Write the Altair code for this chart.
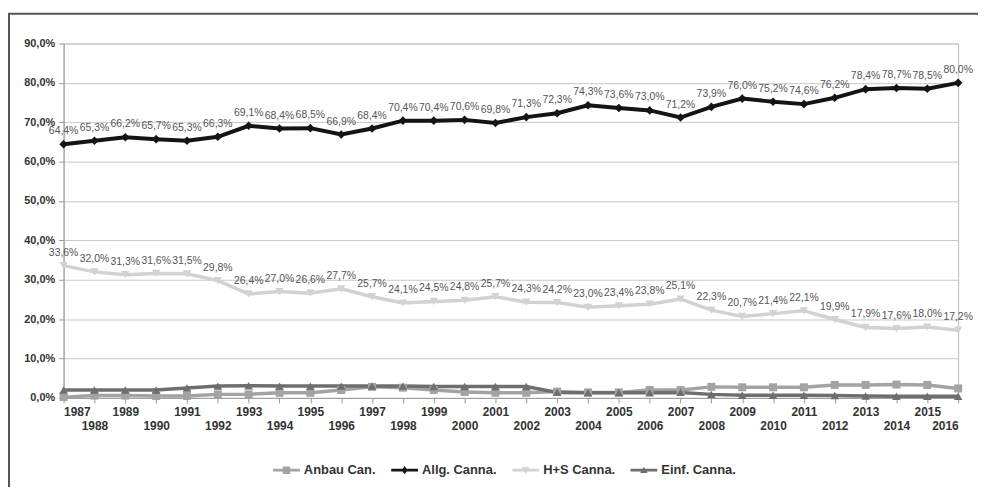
import altair as alt
import pandas as pd

years = list(range(1987, 2017))
anbau = [0.2, 0.6, 0.6, 0.5, 0.5, 0.9, 0.9, 1.3, 1.3, 2.0, 2.8, 2.6, 2.0, 1.5, 1.3,
         1.3, 1.6, 1.4, 1.4, 2.0, 2.0, 2.8, 2.7, 2.7, 2.7, 3.3, 3.3, 3.4, 3.3, 2.4]
allg = [64.4, 65.3, 66.2, 65.7, 65.3, 66.3, 69.1, 68.4, 68.5, 66.9, 68.4, 70.4, 70.4, 70.6, 69.8,
        71.3, 72.3, 74.3, 73.6, 73.0, 71.2, 73.9, 76.0, 75.2, 74.6, 76.2, 78.4, 78.7, 78.5, 80.0]
hs = [33.6, 32.0, 31.3, 31.6, 31.5, 29.8, 26.4, 27.0, 26.6, 27.7, 25.7, 24.1, 24.5, 24.8, 25.7,
      24.3, 24.2, 23.0, 23.4, 23.8, 25.1, 22.3, 20.7, 21.4, 22.1, 19.9, 17.9, 17.6, 18.0, 17.2]
einf = [2.0, 2.0, 2.0, 2.0, 2.5, 3.0, 3.1, 3.0, 3.0, 3.0, 3.0, 3.0, 2.9, 2.9, 2.9,
        2.9, 1.4, 1.3, 1.3, 1.3, 1.4, 0.9, 0.7, 0.7, 0.7, 0.6, 0.5, 0.4, 0.4, 0.4]

series_names = ["Anbau Can.", "Allg. Canna.", "H+S Canna.", "Einf. Canna."]
series_values = [anbau, allg, hs, einf]
series_colors = ["#a3a3a3", "#141414", "#d2d2d2", "#6e6e6e"]
labeled = ["Allg. Canna.", "H+S Canna."]

rows = []
for name, vals in zip(series_names, series_values):
    for y, v in zip(years, vals):
        rows.append({"Jahr": y, "Wert": v, "Serie": name})
df = pd.DataFrame(rows)

W, H = 901, 357

color_scale = alt.Scale(domain=series_names, range=series_colors)
color = alt.Color("Serie:N", scale=color_scale, legend=None)

x = alt.X("Jahr:Q",
          scale=alt.Scale(domain=[1987, 2016], nice=False, zero=False),
          axis=alt.Axis(values=years, title=None, grid=False, labelOverlap=False,
                        labelExpr="datum.value % 2 == 0 ? ['', '' + datum.value] : '' + datum.value",
                        labelLineHeight=14, labelPadding=4, tickSize=5, tickColor="#999",
                        domainColor="#999", labelFontWeight="bold", labelFontSize=12,
                        labelColor="#333", labelFont="Liberation Sans", labelBaseline="top"))
y = alt.Y("Wert:Q",
          scale=alt.Scale(domain=[0, 90], nice=False),
          axis=alt.Axis(values=list(range(0, 100, 10)), title=None, grid=True, gridColor="#c8c8c8",
                        labelExpr="replace(format(datum.value, '.1f'), '.', ',') + '%'",
                        tickSize=5, tickColor="#999", domainColor="#999", labelPadding=4,
                        labelFontWeight="bold", labelFontSize=11, labelColor="#333",
                        labelFont="Liberation Sans"))

base = alt.Chart(df)

line_layers = []
for name in series_names:
    sw = 4 if name == "Allg. Canna." else 3.5
    line_layers.append(
        base.transform_filter(alt.datum.Serie == name)
        .mark_line(strokeWidth=sw)
        .encode(x=x, y=y, color=color)
    )

shapes = {"Anbau Can.": ("square", 65), "Allg. Canna.": ("diamond", 75),
          "H+S Canna.": ("triangle-down", 70), "Einf. Canna.": ("triangle-up", 75)}
point_layers = []
for name in series_names:
    shp, sz = shapes[name]
    point_layers.append(
        base.transform_filter(alt.datum.Serie == name)
        .mark_point(filled=True, shape=shp, size=sz, opacity=1)
        .encode(x=x, y=y, color=color)
    )

texts = base.transform_filter(
    alt.FieldOneOfPredicate(field="Serie", oneOf=labeled)
).transform_calculate(
    lbl="replace(format(datum.Wert, '.1f'), '.', ',') + '%'"
).mark_text(dy=-13, fontSize=10.5, color="#555", font="Liberation Sans").encode(
    x=x, y=y, text="lbl:N")

leg_paths = [
    "M-1,-0.1H1V0.1H-1Z M-0.28,-0.28H0.28V0.28H-0.28Z",
    "M-1,-0.1H1V0.1H-1Z M0,-0.3L0.22,0L0,0.3L-0.22,0Z",
    "M-1,-0.1H1V0.1H-1Z M-0.28,-0.22L0.28,-0.22L0,0.26Z",
    "M-1,-0.1H1V0.1H-1Z M0.28,0.22L-0.28,0.22L0,-0.26Z",
]
leg_props = dict(title=None, orient="none", legendX=211, legendY=416, direction="horizontal",
                 symbolSize=729, symbolStrokeWidth=0, symbolOpacity=1,
                 labelFontWeight="bold", labelFontSize=13, labelColor="#333",
                 labelFont="Liberation Sans", columnPadding=15,
                 labelOffset=4)
legend_layer = base.mark_point(filled=True, opacity=0).encode(
    x=x, y=y,
    color=alt.Color("Serie:N", scale=color_scale, legend=alt.Legend(**leg_props)),
    shape=alt.Shape("Serie:N", scale=alt.Scale(domain=series_names, range=leg_paths),
                    legend=alt.Legend(**leg_props)),
)

border = alt.Chart(pd.DataFrame({"a": [0]})).mark_rect(
    filled=False, stroke="#555", strokeWidth=2
).encode(x=alt.value(-55), x2=alt.value(W + 40), y=alt.value(-30), y2=alt.value(H + 110))

chart = alt.layer(border, *line_layers, *point_layers, texts, legend_layer).resolve_legend(
    color="independent", shape="independent"
).properties(
    width=W, height=H,
    padding={"left": 56, "top": 34, "right": 20, "bottom": 88},
    autosize=alt.AutoSizeParams(type="none"),
    background="white",
).configure_view(stroke="#bbb", strokeWidth=1)

chart.save("out.html", embed_options={"renderer": "svg", "actions": False})
